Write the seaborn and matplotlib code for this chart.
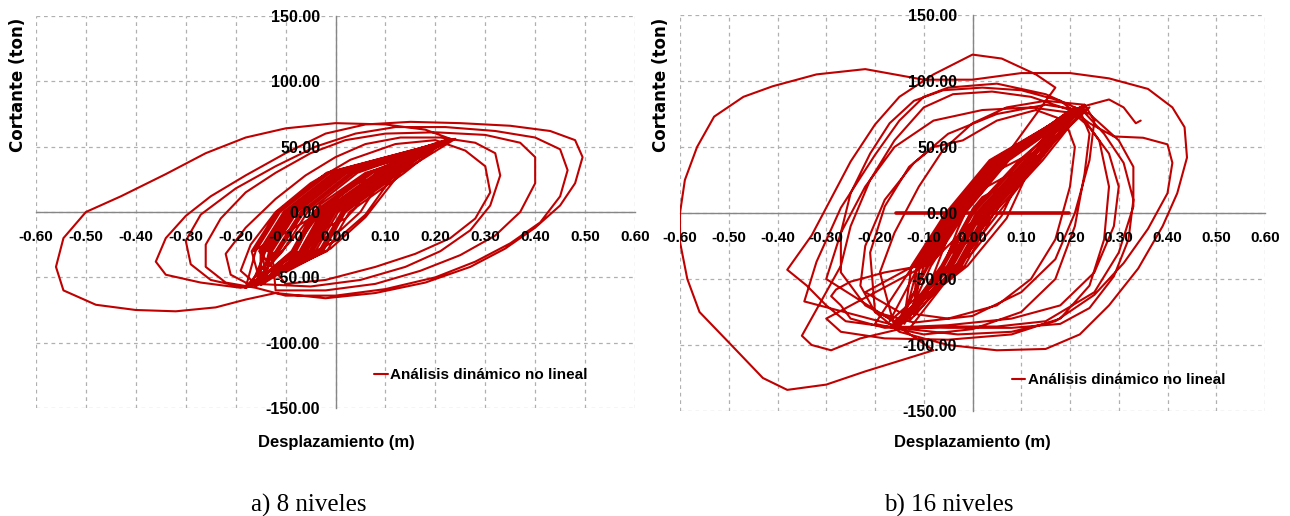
import matplotlib
matplotlib.use('Agg')
import matplotlib.pyplot as plt
import seaborn as sns
import pandas as pd
import numpy as np

# ---- panel a) 8 niveles : displacement (m) / base shear (ton), one trace, loop by loop
disp_8 = [
    -0.02, 0.02, 0.04, 0.06, 0.02, -0.01, -0.02,
    -0.05, 0.01, 0.05, 0.09, 0.03, -0.02, -0.04,
    -0.08, 0.00, 0.06, 0.12, 0.04, -0.03, -0.06,
    -0.10, -0.01, 0.06, 0.15, 0.06, -0.03, -0.08,
    -0.17, -0.088, -0.044, 0.066, 0.22, -0.018, -0.118, -0.168,
    -0.15, -0.081, -0.036, 0.075, 0.20, -0.011, -0.111, -0.160,
    -0.18, -0.072, -0.028, 0.083, 0.23, -0.004, -0.104, -0.153,
    -0.10, -0.02, 0.08, 0.16, 0.23, 0.28, 0.31, 0.30, 0.26, 0.20, 0.12, 0.03, -0.05, -0.12, -0.17, -0.19, -0.16,
    -0.05, 0.05, 0.14, 0.21, 0.27, 0.31, 0.33, 0.32, 0.28, 0.21, 0.13, 0.06, 0.00, -0.06, -0.12, -0.18, -0.22, -0.21, -0.17,
    -0.16, -0.064, -0.019, 0.090, 0.21, 0.003, -0.097, -0.146,
    -0.14, -0.057, -0.012, 0.098, 0.19, 0.010, -0.090, -0.140,
    -0.17, -0.049, -0.004, 0.106, 0.22, 0.016, -0.084, -0.133,
    -0.15, -0.040, 0.005, 0.115, 0.23, 0.023, -0.077, -0.127,
    -0.12, -0.02, 0.08, 0.17, 0.25, 0.32, 0.37, 0.40, 0.40, 0.37, 0.30, 0.20, 0.10, 0.02, -0.05, -0.12, -0.18, -0.23, -0.26, -0.26, -0.22, -0.16,
    -0.10, 0.00, 0.10, 0.20, 0.28, 0.35, 0.41, 0.45, 0.465, 0.45, 0.40, 0.32, 0.22, 0.12, 0.04, -0.04, -0.12, -0.20, -0.27, -0.30, -0.29, -0.25, -0.18,
    -0.13, -0.033, 0.012, 0.122, 0.18, 0.030, -0.070, -0.120,
    -0.18, -0.025, 0.020, 0.130, 0.24, 0.037, -0.063, -0.113,
    -0.16, -0.017, 0.028, 0.138, 0.21, 0.044, -0.056, -0.106,
    -0.17, -0.085, -0.040, 0.070, 0.22, -0.015, -0.115, -0.165,
    0.23, 0.18, 0.10, 0.00, -0.10, -0.18, -0.26, -0.34, -0.43, -0.50, -0.545, -0.56, -0.545, -0.48, -0.40, -0.32, -0.24, -0.18, -0.12,
    -0.02, 0.08, 0.18, 0.27, 0.34, 0.40, 0.45, 0.48, 0.495, 0.48, 0.43, 0.35, 0.25, 0.15, 0.06, -0.02, -0.10, -0.18, -0.25, -0.30, -0.34, -0.36, -0.34, -0.27, -0.19,
    -0.15, -0.060, -0.016, 0.094, 0.20, 0.006, -0.094, -0.143,
    -0.16, -0.045, 0.000, 0.110, 0.23, 0.020, -0.080, -0.130,
    -0.14, -0.028, 0.016, 0.126, 0.20, 0.034, -0.066, -0.116,
    -0.18, -0.070, -0.024, 0.086, 0.22, -0.001, -0.101, -0.150,
    -0.15, -0.052, -0.008, 0.102, 0.21, 0.013, -0.087, -0.136,
]
shear_8 = [
    -12, -5, 3, 16, 10, 0, -6,
    -25, -14, 0, 24, 14, 0, -12,
    -38, -22, -2, 30, 22, 0, -16,
    -46, -28, -4, 40, 30, 6, -18,
    -57, -30, 0, 30, 54, 30, 0, -30,
    -55, -30, 0, 30, 50, 30, 0, -30,
    -58, -30, 0, 30, 55, 30, 0, -30,
    -55, -52, -42, -32, -20, -5, 15, 35, 47, 55, 52, 40, 22, 0, -25, -45, -55,
    -57, -52, -42, -30, -14, 5, 28, 45, 53, 57, 57, 52, 42, 28, 10, -12, -32, -48, -56,
    -56, -30, 0, 30, 52, 30, 0, -30,
    -53, -30, 0, 30, 48, 30, 0, -30,
    -57, -30, 0, 30, 55, 30, 0, -30,
    -56, -30, 0, 30, 56, 30, 0, -30,
    -60, -60, -55, -45, -33, -18, 0, 22, 42, 53, 59, 61, 60, 55, 45, 30, 15, -5, -25, -42, -54, -58,
    -64, -64, -59, -50, -38, -24, -8, 12, 32, 48, 57, 62, 65, 65, 60, 50, 35, 18, -2, -22, -40, -52, -58,
    -50, -30, 0, 30, 46, 30, 0, -30,
    -58, -30, 0, 30, 56, 30, 0, -30,
    -55, -30, 0, 30, 52, 30, 0, -30,
    -57, -30, 0, 30, 54, 30, 0, -30,
    56, 63, 67, 68, 64, 57, 45, 29, 12, 0, -20, -42, -60, -71, -75, -76, -73, -67, -62,
    -66, -62, -54, -42, -28, -12, 5, 22, 42, 55, 62, 66, 68, 69, 67, 60, 45, 28, 12, -3, -20, -38, -48, -54, -58,
    -54, -30, 0, 30, 50, 30, 0, -30,
    -57, -30, 0, 30, 55, 30, 0, -30,
    -52, -30, 0, 30, 50, 30, 0, -30,
    -58, -30, 0, 30, 53, 30, 0, -30,
    -55, -30, 0, 30, 53, 30, 0, -30,
]

# ---- panel b) 16 niveles
disp_16 = [
    -0.02, 0.01, 0.03, 0.05, 0.02, 0.00, -0.01,
    -0.04, 0.01, 0.05, 0.08, 0.03, -0.01, -0.03,
    -0.07, 0.00, 0.06, 0.12, 0.05, -0.02, -0.05,
    -0.10, -0.01, 0.07, 0.15, 0.07, -0.02, -0.07,
    -0.15, -0.064, -0.004, 0.096, 0.22, 0.035, -0.055, -0.125,
    -0.14, -0.058, 0.002, 0.102, 0.20, 0.040, -0.050, -0.120,
    -0.22, -0.15, -0.05, 0.05, 0.12, 0.17, 0.20, 0.21, 0.19, 0.13, 0.05, -0.02, -0.08, -0.13, -0.18, -0.21,
    -0.20, -0.12, 0.00, 0.10, 0.17, 0.21, 0.24, 0.25, 0.23, 0.15, 0.07, 0.00, -0.06, -0.11, -0.16, -0.19,
    -0.16, -0.052, 0.008, 0.108, 0.23, 0.045, -0.045, -0.115,
    -0.12, -0.046, 0.014, 0.114, 0.18, 0.050, -0.040, -0.110,
    -0.17, -0.040, 0.020, 0.120, 0.21, 0.055, -0.035, -0.105,
    -0.18, -0.25,
    -0.28, -0.29, -0.27, -0.25, -0.18, -0.05, 0.08, 0.18, 0.25, 0.29, 0.30, 0.28, 0.24, 0.20, 0.12, 0.04, -0.04, -0.10, -0.16, -0.21, -0.25, -0.27,
    -0.35, -0.33, -0.29, -0.23, -0.15, -0.05, 0.05, 0.15, 0.25, 0.30, 0.33, 0.33, 0.30, 0.24, 0.15, 0.05, -0.05, -0.10, -0.15, -0.20, -0.27, -0.32, -0.345,
    -0.15, -0.034, 0.026, 0.126, 0.24, 0.060, -0.030, -0.100,
    -0.13, -0.028, 0.032, 0.132, 0.19, 0.065, -0.025, -0.095,
    0.17, 0.13, 0.06, 0.00, -0.08, -0.15, -0.20, -0.25, -0.29, -0.33, -0.38, -0.34, -0.30, -0.26, -0.18, -0.05, 0.08, 0.18, 0.24, 0.29, 0.32, 0.33, 0.31, 0.27, 0.22,
    -0.13, -0.03, 0.08, 0.17, 0.25, 0.31, 0.36, 0.40, 0.41, 0.40, 0.35, 0.29, 0.24, 0.18, 0.10, 0.02, -0.06, -0.12, -0.17, -0.21, -0.25, -0.27, -0.27, -0.22, -0.17,
    -0.16, -0.022, 0.038, 0.138, 0.22, 0.070, -0.020, -0.090,
    -0.15, -0.016, 0.044, 0.144, 0.23, 0.075, -0.015, -0.085,
    -0.14, -0.061, -0.001, 0.099, 0.20, 0.038, -0.052, -0.122,
    -0.20, -0.10, 0.00, 0.10, 0.17, 0.21, 0.23, 0.24, 0.22, 0.15, 0.05, -0.05, -0.12, -0.18, -0.22, -0.23, -0.20,
    -0.15, -0.05, 0.05, 0.15, 0.22, 0.28, 0.34, 0.39, 0.42, 0.44, 0.435, 0.41, 0.36, 0.28, 0.20, 0.10, 0.00, -0.10, -0.22, -0.32, -0.41, -0.47, -0.53, -0.565, -0.59, -0.60, -0.60, -0.585, -0.56, -0.50, -0.43, -0.38, -0.30, -0.22, -0.15, -0.08,
    -0.16, -0.043, 0.017, 0.117, 0.21, 0.052, -0.038, -0.108,
    -0.12, -0.031, 0.029, 0.129, 0.20, 0.062, -0.028, -0.098,
    -0.30, -0.27, -0.18, -0.05, 0.08, 0.18, 0.24, 0.27, 0.28, 0.26, 0.22, 0.12, 0.02, -0.08, -0.16, -0.22, -0.27, -0.30,
    -0.15, -0.049, 0.011, 0.111, 0.22, 0.048, -0.042, -0.112,
    -0.14, -0.025, 0.035, 0.135, 0.21, 0.068, -0.022, -0.092,
    0.06, 0.14, 0.22, 0.28, 0.31, 0.335, 0.345,
]
shear_16 = [
    -14, -8, 2, 18, 12, 3, -5,
    -30, -16, 2, 30, 20, 4, -12,
    -50, -30, -2, 45, 32, 8, -18,
    -66, -40, -4, 60, 44, 14, -22,
    -84, -40, 0, 40, 80, 40, 0, -40,
    -80, -40, 0, 40, 76, 40, 0, -40,
    -60, -75, -80, -70, -50, -20, 20, 50, 70, 78, 70, 55, 50, 35, 5, -30,
    -75, -83, -78, -60, -35, 0, 40, 70, 82, 85, 80, 68, 48, 20, -15, -45,
    -86, -40, 0, 40, 82, 40, 0, -40,
    -76, -40, 0, 40, 70, 40, 0, -40,
    -82, -40, 0, 40, 78, 40, 0, -40,
    -45, -52,
    -58, -63, -70, -80, -87, -85, -80, -70, -45, -10, 20, 45, 65, 78, 88, 92, 90, 80, 55, 25, -10, -40,
    -93, -100, -104, -95, -88, -86, -86, -82, -60, -30, 5, 35, 55, 75, 90, 98, 95, 88, 70, 44, 4, -37, -67,
    -86, -40, 0, 40, 80, 40, 0, -40,
    -82, -40, 0, 40, 72, 40, 0, -40,
    95, 105, 117, 120, 105, 88, 67, 39, 11, -17, -43, -55, -70, -82, -86, -87, -87, -84, -72, -48, -20, 10, 38, 60, 80,
    -88, -92, -90, -82, -62, -38, -12, 15, 38, 52, 57, 58, 68, 85, 93, 95, 93, 85, 68, 45, 15, -15, -45, -70, -80,
    -82, -40, 0, 40, 78, 40, 0, -40,
    -80, -40, 0, 40, 80, 40, 0, -40,
    -84, -40, 0, 40, 74, 40, 0, -40,
    -84, -92, -88, -75, -50, -10, 30, 60, 78, 82, 75, 60, 38, 10, -25, -55, -75,
    -90, -100, -104, -103, -92, -70, -42, -10, 15, 42, 65, 80, 94, 102, 106, 106, 101, 101, 109, 105, 96, 88, 73, 50, 25, 0, -22, -50, -75, -98, -125, -134, -130, -120, -112, -104,
    -84, -40, 0, 40, 80, 40, 0, -40,
    -78, -40, 0, 40, 78, 40, 0, -40,
    -80, -90, -95, -96, -92, -80, -55, -20, 20, 55, 75, 80, 78, 70, 50, 20, -15, -50,
    -85, -40, 0, 40, 79, 40, 0, -40,
    -80, -40, 0, 40, 76, 40, 0, -40,
    15, 45, 80, 86, 80, 68, 70,
]
# flat zero-shear stretch drawn in the 16-level record
flat_disp_16 = [-0.157, 0.197]
flat_shear_16 = [0, 0]

x_ticks = [-0.6, -0.5, -0.4, -0.3, -0.2, -0.1, 0.0, 0.1, 0.2, 0.3, 0.4, 0.5, 0.6]
y_ticks = [-150, -100, -50, 0, 50, 100, 150]
series_name = 'Análisis dinámico no lineal'
captions = ['a) 8 niveles', 'b) 16 niveles']

sns.set_theme(style='white')
plt.rcParams['font.family'] = ['Liberation Sans', 'DejaVu Sans']
plt.rcParams['font.weight'] = 'bold'
for key in ['text.color', 'axes.labelcolor', 'xtick.color', 'ytick.color']:
    plt.rcParams[key] = 'black'

RED = '#C00000'
GRID = '#b0b0b0'
AXIS = '#868686'


def draw_panel(ax, xs, ys, extra=None):
    df = pd.DataFrame({'disp': xs, 'shear': ys})
    sns.lineplot(data=df, x='disp', y='shear', sort=False, estimator=None,
                 color=RED, lw=1.5, ax=ax, label=series_name)
    if extra is not None:
        sns.lineplot(x=extra[0], y=extra[1], sort=False, estimator=None,
                     color=RED, lw=2.6, ax=ax, legend=False)
    for ln in ax.lines:
        ln.set_zorder(2.6)
        ln.set_solid_joinstyle('round')

    ax.set_xlim(-0.6, 0.6)
    ax.set_ylim(-150, 150)
    ax.set_xticks(x_ticks)
    ax.set_yticks(y_ticks)
    ax.set_xticklabels(['%.2f' % v for v in x_ticks])
    ax.set_yticklabels(['%.2f' % v for v in y_ticks])
    for v in x_ticks:
        ax.axvline(v, color=GRID, lw=0.9, ls=(0, (3, 3)), zorder=0.5)
    for v in y_ticks:
        ax.axhline(v, color=GRID, lw=0.9, ls=(0, (3, 3)), zorder=0.5)

    ax.spines['left'].set_position(('data', 0))
    ax.spines['bottom'].set_position(('data', 0))
    ax.spines['top'].set_visible(False)
    ax.spines['right'].set_visible(False)
    for s in ['left', 'bottom']:
        ax.spines[s].set_color(AXIS)
        ax.spines[s].set_linewidth(1.0)
    ax.tick_params(axis='x', length=0, pad=13, labelsize=11)
    ax.tick_params(axis='y', length=0, pad=11, labelsize=11.5)
    ax.xaxis.set_zorder(3)
    ax.yaxis.set_zorder(3)
    ax.set_facecolor('white')

    ax.set_xlabel('Desplazamiento (m)', fontsize=12, fontweight='bold')
    ax.set_ylabel('Cortante (ton)', fontsize=12, fontweight='bold',
                  family='DejaVu Sans', ha='center', va='center')


fig = plt.figure(figsize=(12.9, 5.16), dpi=100)
ax_a = fig.add_axes([36 / 1290, 1 - 408 / 516, 599 / 1290, 392 / 516])
ax_b = fig.add_axes([680 / 1290, 1 - 411 / 516, 585 / 1290, 396 / 516])

draw_panel(ax_a, disp_8, shear_8)
draw_panel(ax_b, disp_16, shear_16, extra=(flat_disp_16, flat_shear_16))

ax_a.yaxis.set_label_coords(-0.030, 0.824)
ax_b.yaxis.set_label_coords(-0.0325, 0.823)
ax_a.xaxis.set_label_coords(0.5008, -0.069)
ax_b.xaxis.set_label_coords(0.5, -0.061)

ax_a.legend(loc='center left', bbox_to_anchor=(0.565, 0.084), frameon=False,
            handlelength=0.9, handletextpad=0.15, borderaxespad=0, borderpad=0,
            prop={'weight': 'bold', 'size': 11})
ax_b.legend(loc='center left', bbox_to_anchor=(0.567, 0.078), frameon=False,
            handlelength=0.9, handletextpad=0.15, borderaxespad=0, borderpad=0,
            prop={'weight': 'bold', 'size': 11})

fig.text(309 / 1290, 1 - 505 / 516, captions[0], family='Liberation Serif',
         fontweight='normal', fontsize=18, ha='center', va='center')
fig.text(949 / 1290, 1 - 505 / 516, captions[1], family='Liberation Serif',
         fontweight='normal', fontsize=18, ha='center', va='center')

fig.savefig('out.png', dpi=100, facecolor='white')
